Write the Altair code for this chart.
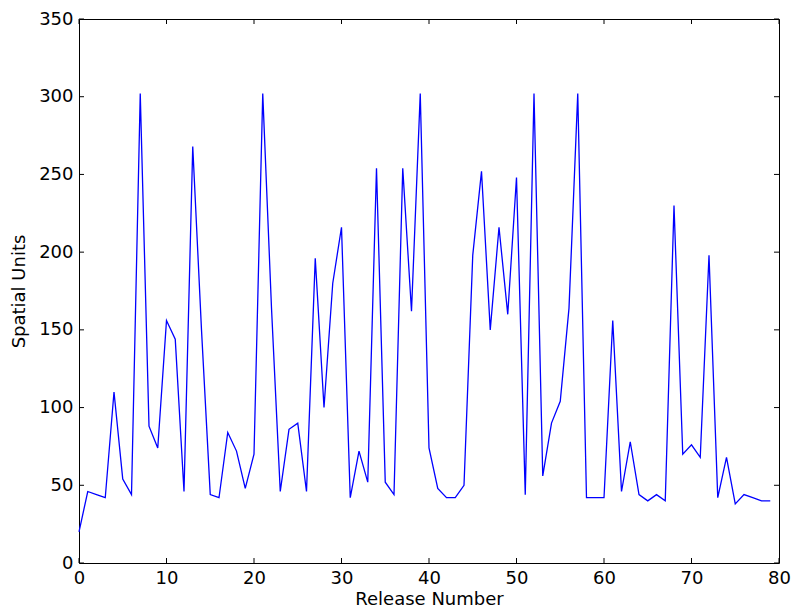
import altair as alt
import pandas as pd

release = list(range(80))
units = [20, 46, 44, 42, 110, 54, 44, 302, 88, 74,
         156, 144, 46, 268, 150, 44, 42, 84, 72, 48,
         70, 302, 164, 46, 86, 90, 46, 196, 100, 180,
         216, 42, 72, 52, 254, 52, 44, 254, 162, 302,
         74, 48, 42, 42, 50, 198, 252, 150, 216, 160,
         248, 44, 302, 56, 90, 104, 164, 302, 42, 42,
         42, 156, 46, 78, 44, 40, 44, 40, 230, 70,
         76, 68, 198, 42, 68, 38, 44, 42, 40, 40]
x_ticks = [0, 10, 20, 30, 40, 50, 60, 70, 80]
y_ticks = [0, 50, 100, 150, 200, 250, 300, 350]

W, H = 700, 544
TL = 5
FONT = "DejaVu Sans"

df = pd.DataFrame({"release": release, "units": units})
xt = pd.DataFrame({"t": x_ticks})
yt = pd.DataFrame({"t": y_ticks})

xs = alt.Scale(domain=[0, 80], nice=False, zero=False)
ys = alt.Scale(domain=[0, 350], nice=False, zero=False)

common = dict(tickSize=0, domain=False, grid=False, format="d", labelFlush=False,
              labelFont=FONT, titleFont=FONT, labelFontSize=18, titleFontSize=18,
              labelColor="black", titleColor="black", titleFontWeight="normal")
xax = alt.Axis(title="Release Number", values=x_ticks, labelPadding=6,
               titlePadding=3, **common)
yax = alt.Axis(title="Spatial Units", values=y_ticks, labelPadding=6,
               titlePadding=10, **common)

line = alt.Chart(df).mark_line(color="#0000ff", strokeWidth=1.3).encode(
    x=alt.X("release:Q", scale=xs, axis=xax),
    y=alt.Y("units:Q", scale=ys, axis=yax),
)

tick_style = dict(color="black", strokeWidth=1)

bottom = alt.Chart(xt).mark_rule(**tick_style).encode(
    x=alt.X("t:Q", scale=xs, axis=xax),
    y=alt.value(H), y2=alt.value(H - TL))
top = alt.Chart(xt).mark_rule(**tick_style).encode(
    x=alt.X("t:Q", scale=xs, axis=xax),
    y=alt.value(0), y2=alt.value(TL))
left = alt.Chart(yt).mark_rule(**tick_style).encode(
    y=alt.Y("t:Q", scale=ys, axis=yax),
    x=alt.value(0), x2=alt.value(TL))
right = alt.Chart(yt).mark_rule(**tick_style).encode(
    y=alt.Y("t:Q", scale=ys, axis=yax),
    x=alt.value(W), x2=alt.value(W - TL))

chart = alt.layer(line, bottom, top, left, right).properties(
    width=W, height=H,
    autosize=alt.AutoSizeParams(type="none"),
    padding={"left": 71, "top": 11, "right": 12, "bottom": 46},
    background="white",
).configure_view(
    stroke="black", strokeWidth=1
)

chart.save("out.html", embed_options={"renderer": "svg", "actions": False})
